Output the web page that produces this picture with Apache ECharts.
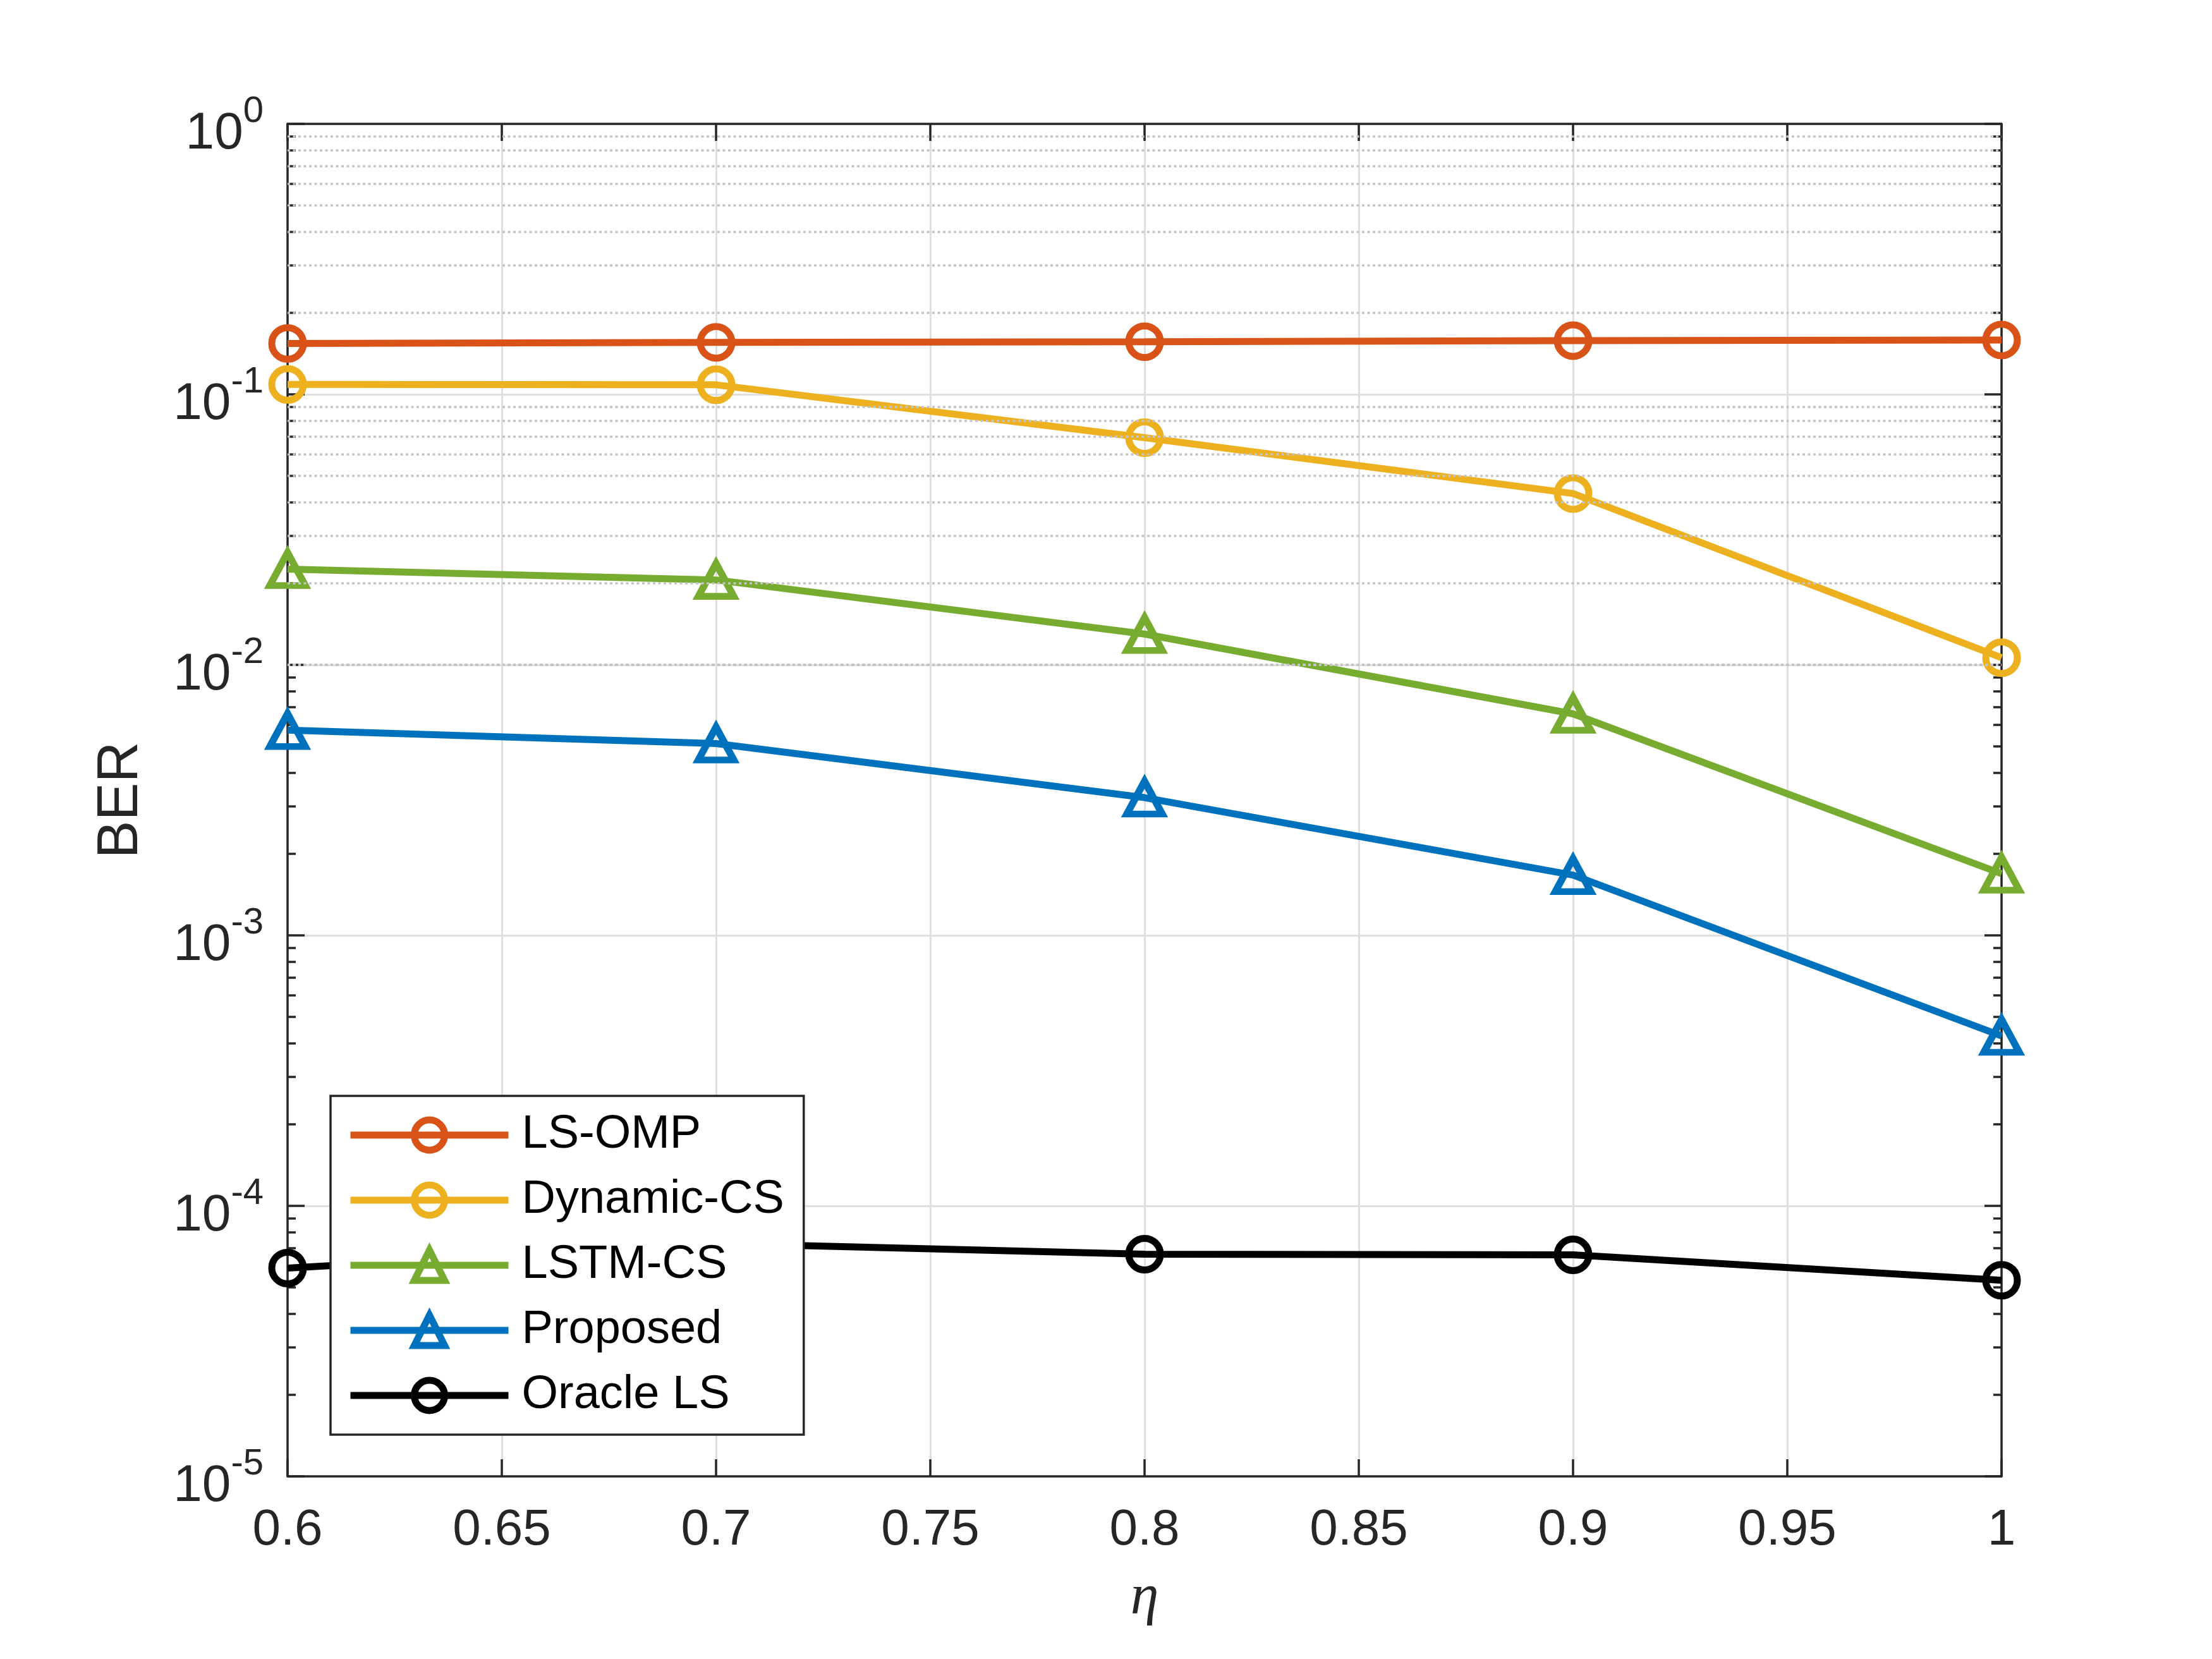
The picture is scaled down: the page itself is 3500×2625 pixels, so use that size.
<!DOCTYPE html>
<html lang="en">
<head>
<meta charset="UTF-8">
<title>BER vs eta</title>
<style>html,body{margin:0;padding:0;background:#fff;}</style>
</head>
<body>
<div id="main" style="width:3500px;height:2625px;"></div>
<script src="https://cdn.jsdelivr.net/npm/echarts@6/dist/echarts.min.js"></script>
<script>
// values
var etaValues = [0.6, 0.7, 0.8, 0.9, 1.0];
var lsOmp = [0.1543, 0.1557, 0.1566, 0.1580, 0.1588];
var dynamicCs = [0.1088, 0.1085, 0.0692, 0.0430, 0.01063];
var lstmCs = [0.0226, 0.0206, 0.0130, 0.00659, 0.00169];
var proposed = [0.00574, 0.00512, 0.00323, 0.00167, 0.000425];
var oracleLs = [5.89e-5, 7.26e-5, 6.63e-5, 6.59e-5, 5.31e-5];

var seriesNames = ['LS-OMP', 'Dynamic-CS', 'LSTM-CS', 'Proposed', 'Oracle LS'];
var seriesColors = ['#D95319', '#EDB120', '#77AC30', '#0072BD', '#000000'];
var seriesSymbols = ['circle', 'circle', 'triangle', 'triangle', 'circle'];

// minor log ticks (2..9 in every decade)
var minorTicks = [
    2e-5, 3e-5, 4e-5, 5e-5, 6e-5, 7e-5, 8e-5, 9e-5,
    2e-4, 3e-4, 4e-4, 5e-4, 6e-4, 7e-4, 8e-4, 9e-4,
    2e-3, 3e-3, 4e-3, 5e-3, 6e-3, 7e-3, 8e-3, 9e-3,
    2e-2, 3e-2, 4e-2, 5e-2, 6e-2, 7e-2, 8e-2, 9e-2,
    0.2, 0.3, 0.4, 0.5, 0.6, 0.7, 0.8, 0.9
];

var myChart = echarts.init(document.getElementById('main'), null, { renderer: 'canvas' });

var font = "'Liberation Sans', Arial, Helvetica, sans-serif";
var axisColor = '#262626';
var gridRect = { left: 455, right: 333, top: 196, bottom: 289 };

var allValues = [lsOmp, dynamicCs, lstmCs, proposed, oracleLs];
var series = [];
for (var i = 0; i < seriesNames.length; i++) {
    var pts = [];
    for (var k = 0; k < etaValues.length; k++) {
        pts.push([etaValues[k], allValues[i][k]]);
    }
    series.push({
        name: seriesNames[i],
        type: 'line',
        xAxisIndex: 0,
        yAxisIndex: 0,
        data: pts,
        symbol: seriesSymbols[i],
        symbolSize: seriesSymbols[i] === 'triangle' ? [56, 52] : 50,
        showSymbol: true,
        clip: false,
        z: 3,
        lineStyle: { color: seriesColors[i], width: 11 },
        itemStyle: { color: 'rgba(255,255,255,0)', borderColor: seriesColors[i], borderWidth: 11 },
        emphasis: { disabled: true }
    });
}

// dotted minor grid lines
series.push({
    name: 'minorGrid',
    type: 'line',
    xAxisIndex: 0,
    yAxisIndex: 0,
    data: [],
    z: 1,
    silent: true,
    markLine: {
        silent: true,
        symbol: 'none',
        label: { show: false },
        animation: false,
        lineStyle: { color: '#c4c4c4', width: 3.5, type: [4, 4.5] },
        data: minorTicks.map(function (v) { return { yAxis: v }; })
    }
});

function logLabel(value) {
    var e = Math.round(Math.log10(value));
    return '{b|10}{s|' + e + '}';
}

var option = {
    backgroundColor: '#ffffff',
    animation: false,
    grid: [
        Object.assign({ containLabel: false }, gridRect),
        Object.assign({ containLabel: false }, gridRect)
    ],
    legend: {
        data: seriesNames,
        orient: 'vertical',
        left: 523,
        top: 1734,
        padding: [25, 31, 25, 26],
        itemWidth: 250,
        itemHeight: 60,
        itemGap: 29,
        backgroundColor: '#ffffff',
        borderColor: axisColor,
        borderWidth: 3.5,
        borderRadius: 0,
        lineStyle: { width: 11 },
        itemStyle: { borderWidth: 11 },
        textStyle: {
            fontFamily: font,
            fontSize: 74,
            color: '#000000',
            padding: [0, 0, 0, 16]
        }
    },
    xAxis: [
        {
            type: 'value',
            gridIndex: 0,
            position: 'bottom',
            min: 0.6,
            max: 1,
            interval: 0.05,
            name: 'η',
            nameLocation: 'middle',
            nameGap: 148,
            nameTextStyle: {
                fontFamily: "'Liberation Serif', 'DejaVu Serif', serif",
                fontStyle: 'italic',
                fontSize: 90,
                color: axisColor
            },
            axisLine: { show: true, onZero: false, lineStyle: { color: axisColor, width: 3.5 } },
            axisTick: { show: true, inside: true, length: 27, lineStyle: { color: axisColor, width: 3.5 } },
            axisLabel: { fontFamily: font, fontSize: 80, color: axisColor, margin: 46 },
            splitLine: { show: true, lineStyle: { color: '#dfdfdf', width: 3 } }
        },
        {
            type: 'value',
            gridIndex: 0,
            position: 'top',
            min: 0.6,
            max: 1,
            interval: 0.05,
            axisLine: { show: true, onZero: false, lineStyle: { color: axisColor, width: 3.5 } },
            axisTick: { show: true, inside: true, length: 27, lineStyle: { color: axisColor, width: 3.5 } },
            axisLabel: { show: false },
            splitLine: { show: false }
        },
        {
            type: 'value',
            gridIndex: 1,
            min: 0.6,
            max: 1,
            show: false
        }
    ],
    yAxis: [
        {
            type: 'log',
            logBase: 10,
            gridIndex: 0,
            position: 'left',
            min: 1e-5,
            max: 1,
            name: 'BER',
            nameLocation: 'middle',
            nameGap: 218,
            nameTextStyle: { fontFamily: font, fontSize: 90, color: axisColor },
            axisLine: { show: true, onZero: false, lineStyle: { color: axisColor, width: 3.5 } },
            axisTick: { show: true, inside: true, length: 27, lineStyle: { color: axisColor, width: 3.5 } },
            axisLabel: {
                formatter: logLabel,
                margin: 38,
                fontFamily: font,
                color: axisColor,
                rich: {
                    b: { fontFamily: font, fontSize: 82, lineHeight: 64, color: axisColor, padding: [32, 0, 0, 0] },
                    s: { fontFamily: font, fontSize: 58, lineHeight: 58, color: axisColor, padding: [0, 0, 38, 0] }
                }
            },
            splitLine: { show: true, lineStyle: { color: '#dfdfdf', width: 3 } }
        },
        {
            type: 'log',
            logBase: 10,
            gridIndex: 0,
            position: 'right',
            min: 1e-5,
            max: 1,
            axisLine: { show: true, onZero: false, lineStyle: { color: axisColor, width: 3.5 } },
            axisTick: { show: true, inside: true, length: 27, lineStyle: { color: axisColor, width: 3.5 } },
            axisLabel: { show: false },
            splitLine: { show: false }
        },
        {
            type: 'log',
            logBase: 10,
            gridIndex: 1,
            position: 'left',
            min: 1e-5,
            max: 1,
            axisLine: { show: false },
            axisTick: { show: true, inside: true, length: 13, customValues: minorTicks, lineStyle: { color: axisColor, width: 3.5 } },
            axisLabel: { show: false },
            splitLine: { show: false }
        },
        {
            type: 'log',
            logBase: 10,
            gridIndex: 1,
            position: 'right',
            min: 1e-5,
            max: 1,
            axisLine: { show: false },
            axisTick: { show: true, inside: true, length: 13, customValues: minorTicks, lineStyle: { color: axisColor, width: 3.5 } },
            axisLabel: { show: false },
            splitLine: { show: false }
        }
    ],
    series: series
};

myChart.setOption(option);
</script>
</body>
</html>
